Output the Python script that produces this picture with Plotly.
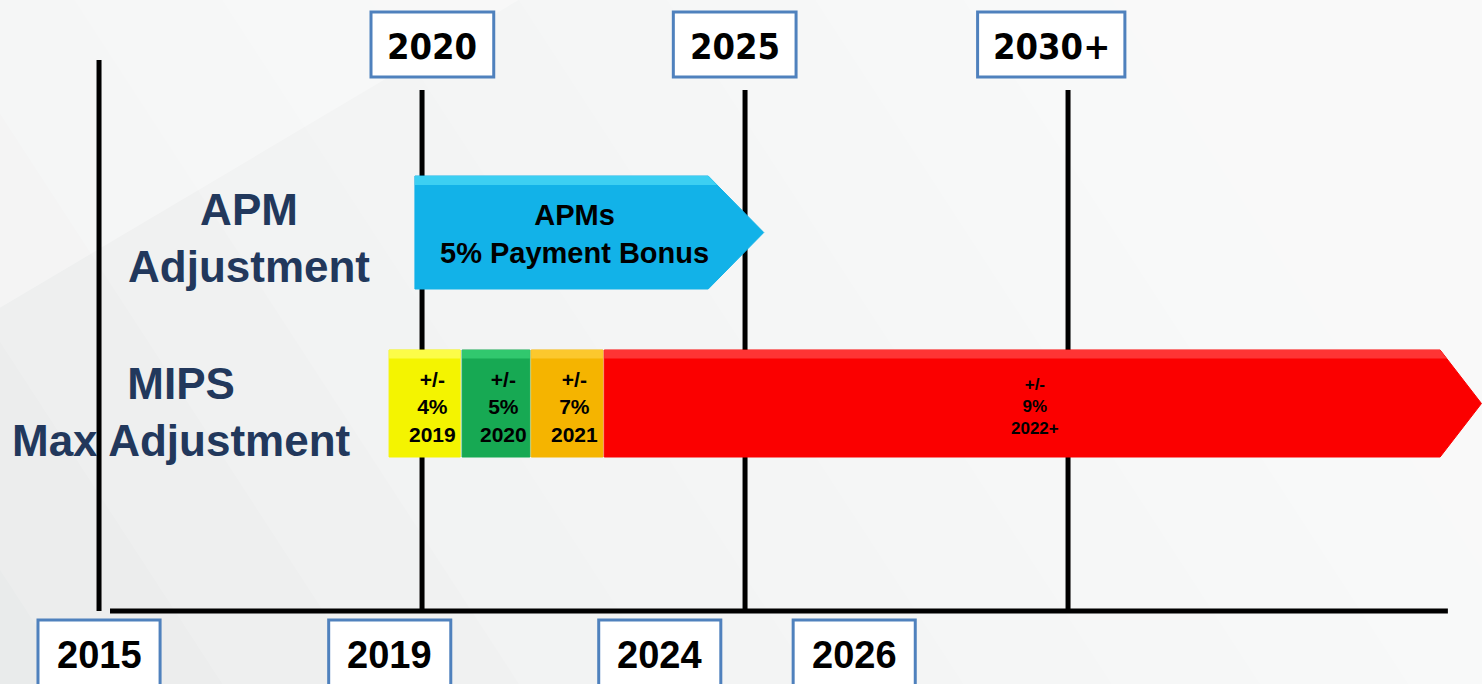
import plotly.graph_objects as go

# ---------------------------------------------------------------
# Daten (x-Achse in Jahren, y-Achse in Seitenpixeln von oben)
# ---------------------------------------------------------------
grid_years = [2015, 2020, 2025, 2030]
grid_tops = [60, 90, 90, 90]

top_labels = ["2020", "2025", "2030+"]
top_label_x = [2020.16, 2024.84, 2029.74]
top_label_w = [1.90, 1.90, 2.28]

bottom_labels = ["2015", "2019", "2024", "2026"]
bottom_label_x = [2015.0, 2019.5, 2023.68, 2026.69]
bottom_label_w = [1.89, 1.89, 1.89, 1.89]

baseline_start, baseline_end = 2015.17, 2035.88

apm_start, apm_end, apm_tip = 2019.89, 2024.43, 2025.29
apm_text = "APMs<br>5% Payment Bonus"

mips_labels = ["+/-<br>4%<br>2019", "+/-<br>5%<br>2020", "+/-<br>7%<br>2021", "+/-<br>9%<br>2022+"]
mips_start = [2019.49, 2020.62, 2021.69, 2022.82]
mips_end = [2020.59, 2021.67, 2022.80, 2035.76]
mips_tip = [None, None, None, 2036.40]
mips_colors = ["#f4f400", "#17a953", "#f5b400", "#fb0000"]
mips_light = ["#ffff66", "#3dd67a", "#ffd040", "#ff4a4a"]

row_names = ["<b>APM<br>Adjustment</b>", "<b>MIPS<br>Max Adjustment</b>"]

# Layout-Konstanten
X0, X1 = 2013.467, 2036.408
APM_Y, APM_H = 232.5, 56.5
MIPS_Y, MIPS_H = 403.5, 53.5
BASE_Y = 611
NAVY = "#22385c"
BOX_BLUE = "#4f81bd"

fig = go.Figure()

# Hintergrund-Verlauf (grau links unten -> weiss rechts oben) in Baendern
for i in range(12):
    xt = -0.35 + i * 0.1
    fig.add_shape(type="path", xref="paper", yref="paper",
                  path=f"M {xt} 1 L 1.5 1 L 1.5 0 L {xt + 0.3} 0 Z",
                  fillcolor="rgba(255,255,255,0.14)", line_width=0, layer="below")
fig.add_shape(type="path", xref="paper", yref="paper",
              path="M 0 1 L 0.35 1 L 0 0.55 Z",
              fillcolor="rgba(255,255,255,0.35)", line_width=0, layer="below")

# Vertikale Linien + Grundlinie
for yr, top in zip(grid_years, grid_tops):
    fig.add_trace(go.Scatter(x=[yr, yr], y=[top, BASE_Y], mode="lines",
                             line=dict(color="black", width=5), hoverinfo="skip"))
fig.add_trace(go.Scatter(x=[baseline_start, baseline_end], y=[BASE_Y, BASE_Y], mode="lines",
                         line=dict(color="black", width=5), hoverinfo="skip"))


def arrow(x0, x1, tip, yc, h, color, light):
    """Balken/Pfeil als gefuelltes Polygon plus heller Oberkante"""
    if tip is None:
        xs = [x0, x1, x1, x0, x0]
        ys = [yc - h, yc - h, yc + h, yc + h, yc - h]
    else:
        xs = [x0, x1, tip, x1, x0, x0]
        ys = [yc - h, yc - h, yc, yc + h, yc + h, yc - h]
    fig.add_trace(go.Scatter(x=xs, y=ys, fill="toself", fillcolor=color, mode="lines",
                             line=dict(color=color, width=1), hoverinfo="skip"))
    # Highlight oben
    band = h * 0.16
    if tip is None:
        hx = [x0, x1, x1, x0, x0]
    else:
        hx = [x0, x1, x1 + (tip - x1) * band / h, x0, x0]
    hy = [yc - h, yc - h, yc - h + band, yc - h + band, yc - h]
    fig.add_trace(go.Scatter(x=hx, y=hy, fill="toself", fillcolor=light, mode="lines",
                             line=dict(width=0), opacity=0.7, hoverinfo="skip"))


# APM-Pfeil
arrow(apm_start, apm_end, apm_tip, APM_Y, APM_H, "#12b2e8", "#4fdcf7")
fig.add_annotation(x=(apm_start + apm_end) / 2 + 0.2, y=APM_Y + 1, text=f"<b>{apm_text}</b>",
                   showarrow=False, font=dict(size=29, color="black", family="Liberation Sans, Arial"))

# MIPS-Segmente
for lab, s, e, t, c, lc in zip(mips_labels, mips_start, mips_end, mips_tip, mips_colors, mips_light):
    arrow(s, e, t, MIPS_Y, MIPS_H, c, lc)
    small = t is None
    fig.add_annotation(x=(s + e) / 2 + (0.12 if small else 0.2), y=MIPS_Y + 3, text=f"<b>{lab}</b>",
                       showarrow=False,
                       font=dict(size=21 if small else 17, color="black", family="Liberation Sans, Arial"))

# Zeilenbeschriftungen
fig.add_annotation(x=2017.32, y=APM_Y + 5, text=row_names[0], showarrow=False,
                   font=dict(size=44, color=NAVY, family="Liberation Sans, Arial"))
fig.add_annotation(x=2016.27, y=MIPS_Y + 8, text=row_names[1], showarrow=False,
                   font=dict(size=44, color=NAVY, family="Liberation Sans, Arial"))

# Jahres-Boxen oben
for lab, xc, w in zip(top_labels, top_label_x, top_label_w):
    fig.add_shape(type="rect", x0=xc - w / 2, x1=xc + w / 2, y0=12, y1=77,
                  fillcolor="white", line=dict(color=BOX_BLUE, width=3))
    fig.add_annotation(x=xc, y=46, text=f"<b>{lab}</b>", showarrow=False,
                       font=dict(size=36, color="black",
                                 family="Liberation Sans Narrow, Arial Narrow, DejaVu Sans Condensed, Liberation Sans"))

# Jahres-Boxen unten
for lab, xc, w in zip(bottom_labels, bottom_label_x, bottom_label_w):
    fig.add_shape(type="rect", x0=xc - w / 2, x1=xc + w / 2, y0=620, y1=690,
                  fillcolor="white", line=dict(color=BOX_BLUE, width=3))
    fig.add_annotation(x=xc, y=655, text=f"<b>{lab}</b>", showarrow=False,
                       font=dict(size=38, color="black", family="Liberation Sans, Arial"))

fig.update_layout(
    width=1482, height=684,
    margin=dict(l=0, r=0, t=0, b=0),
    paper_bgcolor="#e6e8e8",
    plot_bgcolor="rgba(0,0,0,0)",
    showlegend=False,
    xaxis=dict(range=[X0, X1], visible=False, fixedrange=True),
    yaxis=dict(range=[684, 0], visible=False, fixedrange=True),
)

fig.write_html("out.html", config={"displayModeBar": False},
               post_script="document.body.style.margin='0px';")
